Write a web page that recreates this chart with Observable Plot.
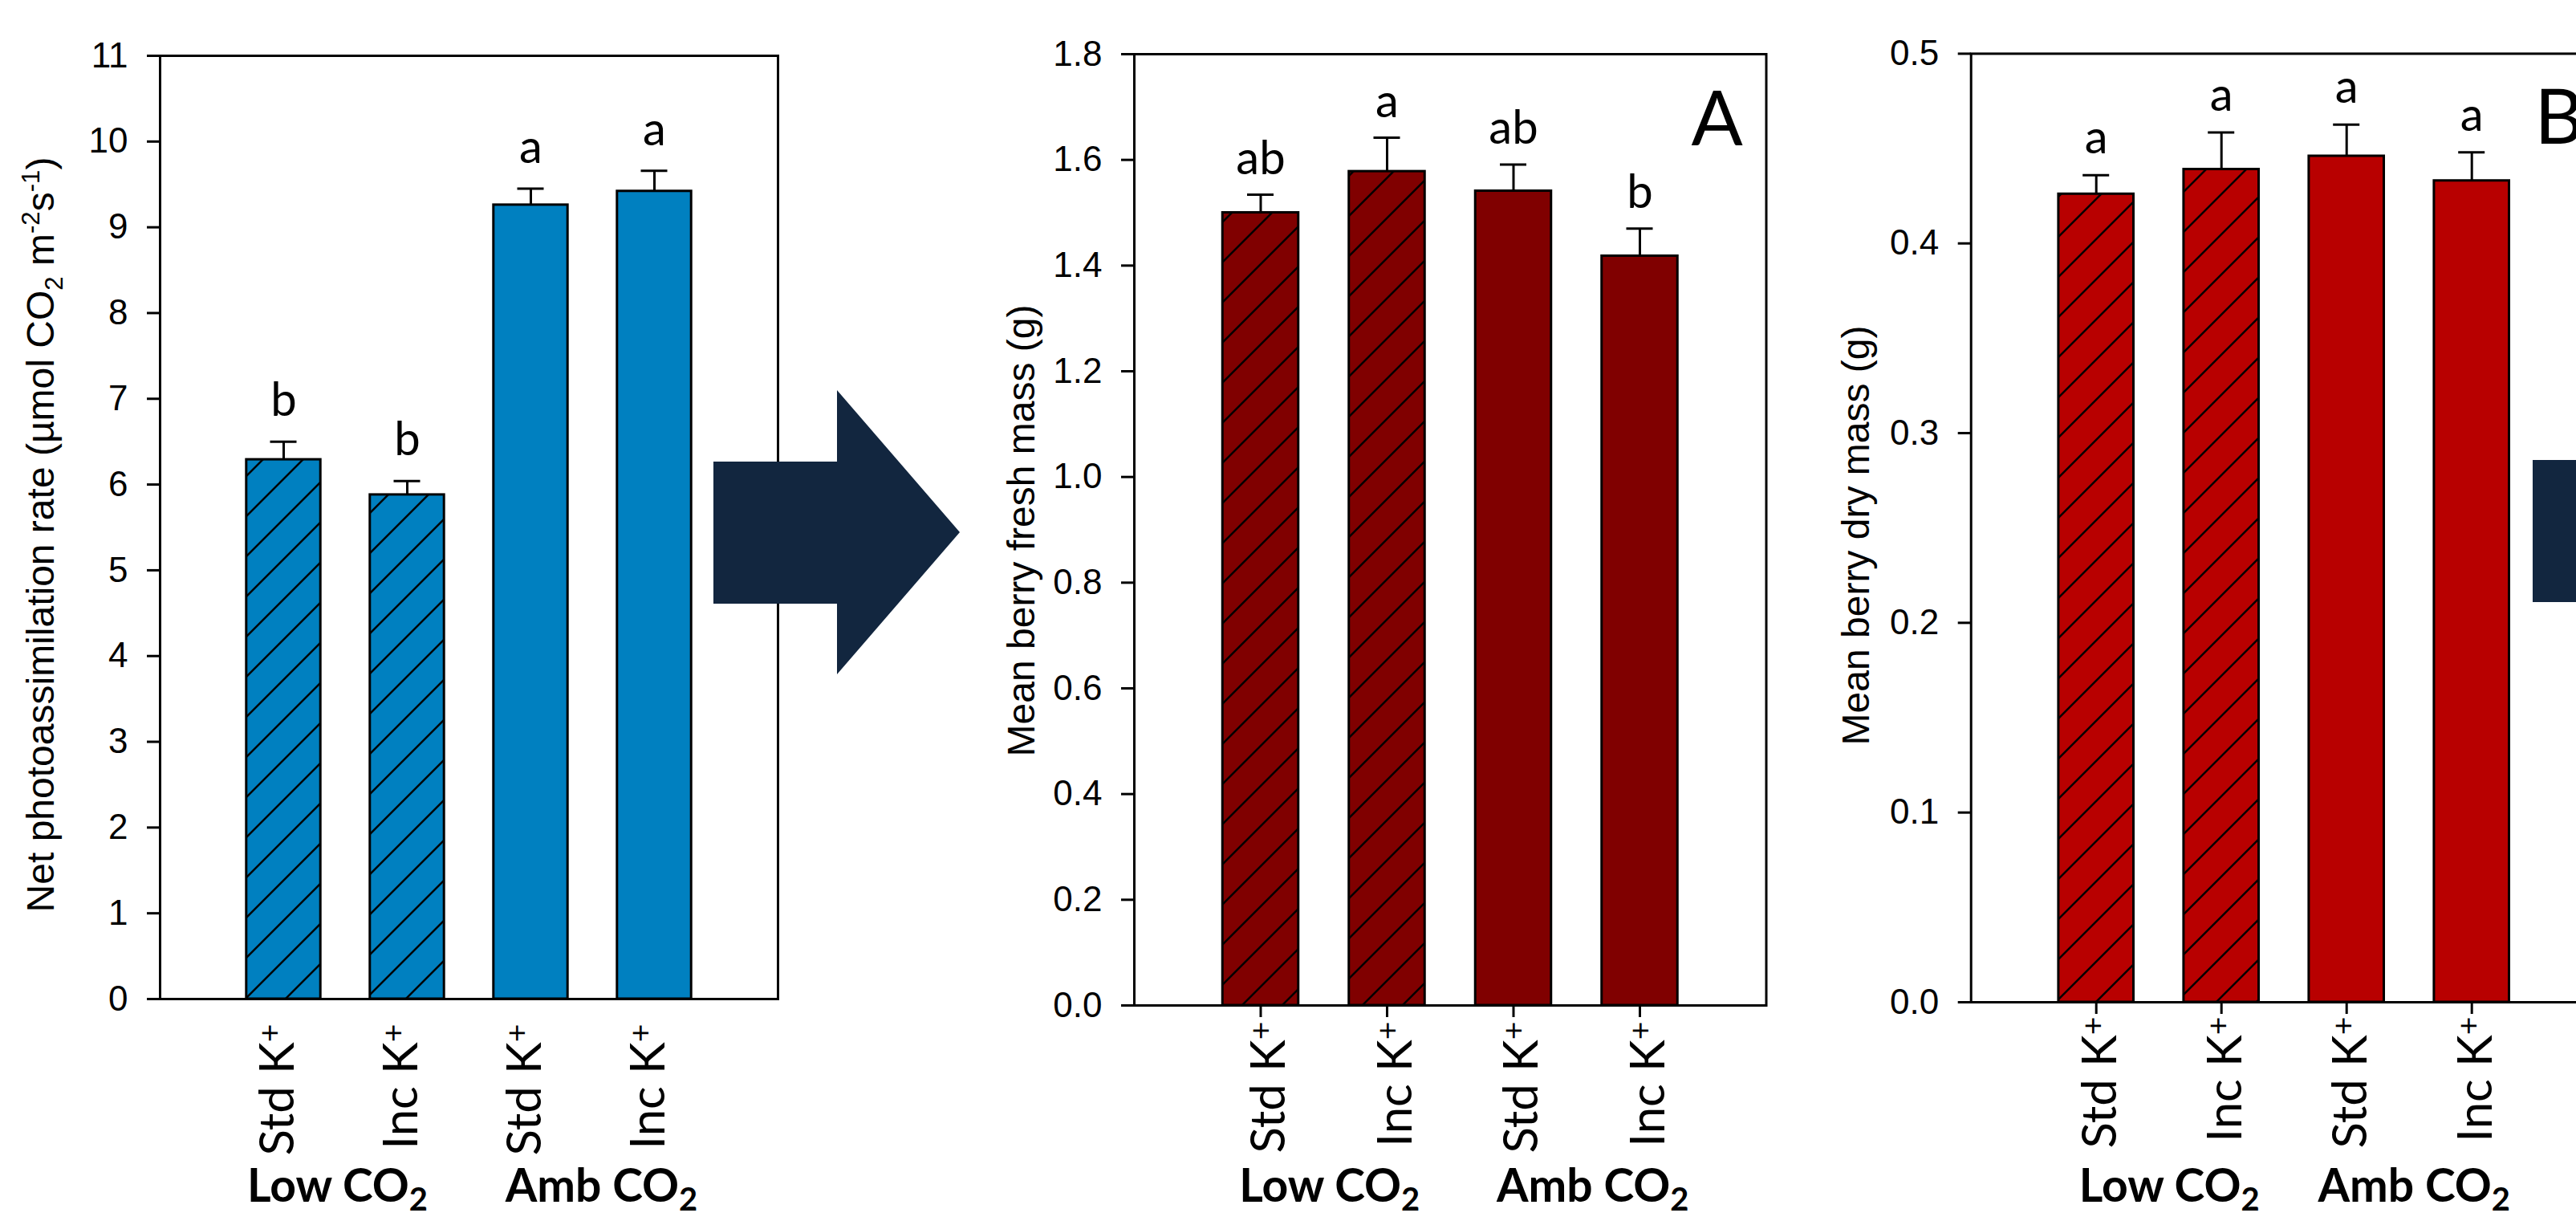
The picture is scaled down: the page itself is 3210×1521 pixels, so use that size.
<!DOCTYPE html>
<html>
<head>
<meta charset="utf-8">
<script src="https://cdn.jsdelivr.net/npm/d3@7"></script>
<script src="https://cdn.jsdelivr.net/npm/@observablehq/plot@0.6"></script>
<style>
html, body { margin: 0; padding: 0; background: #fff; overflow: hidden; }
#fig { position: relative; width: 3210px; height: 1521px; overflow: hidden; background: #fff; }
#fig > svg { position: absolute; top: 0; }
</style>
</head>
<body>
<div id="fig"></div>
<script>
// ---------- data ----------
const treatments = ["Std K+", "Inc K+", "Std K+", "Inc K+"];
const co2Groups  = ["Low CO2", "Low CO2", "Amb CO2", "Amb CO2"];
const hatched    = [true, true, false, false];

const photoMean    = [6.29, 5.88, 9.26, 9.42];
const photoSE      = [0.21, 0.16, 0.19, 0.24];
const photoLetters = ["b", "b", "a", "a"];
const photoTicks   = [0, 1, 2, 3, 4, 5, 6, 7, 8, 9, 10, 11];
const photoTitle   = "Net photoassimilation rate (µmol CO_{2} m^{-2}s^{-1})";

const freshMean    = [1.500, 1.578, 1.541, 1.418];
const freshSE      = [0.034, 0.064, 0.050, 0.052];
const freshLetters = ["ab", "a", "ab", "b"];
const freshTicks   = [0.0, 0.2, 0.4, 0.6, 0.8, 1.0, 1.2, 1.4, 1.6, 1.8];
const freshTitle   = "Mean berry fresh mass (g)";

const dryMean    = [0.426, 0.439, 0.446, 0.433];
const drySE      = [0.010, 0.0195, 0.0166, 0.015];
const dryLetters = ["a", "a", "a", "a"];
const dryTicks   = [0.0, 0.1, 0.2, 0.3, 0.4, 0.5];
const dryTitle   = "Mean berry dry mass (g)";

// ---------- helpers ----------
const fig = document.getElementById("fig");

function markup(s) {
  return s.replace(/K\+/g, "K^{+}").replace(/CO2/g, "CO_{2}");
}

function richify(el, str, basePx, supShift = 0.38, subShift = 0.25, scale = 0.65) {
  const sel = d3.select(el);
  sel.text(null);
  const parts = str.split(/(\^\{[^}]*\}|_\{[^}]*\})/).filter(s => s.length);
  let cur = 0;
  for (const p of parts) {
    let kind = null, t = p;
    if (p.startsWith("^{")) { kind = "sup"; t = p.slice(2, -1); }
    else if (p.startsWith("_{")) { kind = "sub"; t = p.slice(2, -1); }
    const target = kind === "sup" ? -supShift * basePx : kind === "sub" ? subShift * basePx : 0;
    const ts = sel.append("tspan").text(t);
    if (kind) ts.attr("font-size", scale * basePx);
    if (target !== cur) ts.attr("dy", target - cur);
    cur = target;
  }
}

function panel(cfg) {
  const rows = treatments.map((t, i) => ({
    pos: i + 1, treatment: t, group: co2Groups[i], hatched: hatched[i],
    mean: cfg.mean[i], se: cfg.se[i], letter: cfg.letters[i]
  }));
  const groupRows = d3.rollups(rows, v => d3.mean(v, d => d.pos), d => d.group)
    .map(([group, pos]) => ({group, pos}));
  const frameW = cfg.frameW;
  const marginRight = cfg.width - cfg.marginLeft - frameW;
  const marginBottom = 1521 - cfg.zeroY;
  const capHalf = 16.5 / (frameW / 5);

  const marks = [
    Plot.rectY(rows, {filter: d => !d.hatched, x1: d => d.pos - 0.3, x2: d => d.pos + 0.3, y1: 0, y2: "mean",
      fill: cfg.color, stroke: "black", strokeWidth: 3}),
    Plot.rectY(rows, {filter: d => d.hatched, x1: d => d.pos - 0.3, x2: d => d.pos + 0.3, y1: 0, y2: "mean",
      fill: `url(#hatch-${cfg.id})`, stroke: "black", strokeWidth: 3}),
    Plot.ruleX(rows, {x: "pos", y1: "mean", y2: d => d.mean + d.se, stroke: "black", strokeWidth: 3}),
    Plot.ruleY(rows, {y: d => d.mean + d.se, x1: d => d.pos - capHalf, x2: d => d.pos + capHalf, stroke: "black", strokeWidth: 3}),
    Plot.frame({stroke: "black", strokeWidth: 3}),
    Plot.axisY({ticks: cfg.ticks, tickFormat: cfg.format, tickSize: 16, tickPadding: 24, fontSize: 44,
      fontFamily: "Liberation Sans, Arial, sans-serif", label: null, strokeWidth: 3, stroke: "black", fill: "black"}),
    Plot.text(rows, {x: "pos", y: d => d.mean + d.se, text: "letter", dy: -cfg.letterGap, lineAnchor: "bottom",
      fontSize: 58, fontFamily: "Lato, sans-serif", fill: "black"}),
    Plot.text(rows, {x: "pos", frameAnchor: "bottom", text: "treatment", rotate: -90, textAnchor: "end",
      lineAnchor: "middle", dx: cfg.catDx, dy: cfg.catDy, fontSize: 60, fontFamily: "Lato, sans-serif", fill: "black"})
  ];
  groupRows.forEach((g, gi) => {
    marks.push(Plot.text([g], {x: "pos", frameAnchor: "bottom", text: "group", dx: cfg.groupDx[gi], dy: cfg.groupDy,
      lineAnchor: "bottom", fontSize: 57, fontWeight: "bold", fontFamily: "Lato, sans-serif", fill: "black"}));
  });
  if (cfg.xTicks) {
    marks.push(Plot.axisX({ticks: rows.map(d => d.pos), tickSize: 15, tickFormat: () => "", label: null,
      strokeWidth: 3, stroke: "black"}));
  }
  if (cfg.panelLetter) {
    marks.push(Plot.text([cfg.panelLetter], {frameAnchor: "top-left", text: d => d, textAnchor: "start",
      lineAnchor: "bottom", dx: cfg.letterDx, dy: cfg.letterDy, fontSize: 95, fontFamily: "Lato, sans-serif", fill: "black"}));
  }

  const svg = Plot.plot({
    width: cfg.width, height: 1521,
    marginLeft: cfg.marginLeft, marginRight, marginTop: cfg.marginTop, marginBottom,
    x: {domain: [0, 5], axis: null},
    y: {domain: cfg.domain, axis: null},
    style: {background: "transparent", overflow: "visible", color: "black", fontFamily: "Lato, sans-serif"},
    marks
  });

  // hatch pattern definition
  const s = d3.select(svg);
  const defs = s.insert("defs", ":first-child");
  const pat = defs.append("pattern").attr("id", `hatch-${cfg.id}`)
    .attr("patternUnits", "userSpaceOnUse").attr("width", 50).attr("height", 50);
  pat.append("rect").attr("width", 50).attr("height", 50).attr("fill", cfg.color);
  pat.append("path").attr("d", "M-5,5 L5,-5 M0,50 L50,0 M45,55 L55,45")
    .attr("stroke", "black").attr("stroke-width", 2.5).attr("fill", "none");

  // superscripts / subscripts in category and group labels
  s.selectAll("text").each(function () {
    const t = this.textContent;
    if (/K\+/.test(t)) richify(this, markup(t), 60, 0.28, 0.25, 0.65);
    else if (/CO2/.test(t)) richify(this, markup(t), 57, 0.38, 0.2, 0.7);
  });

  // y-axis title
  const title = s.append("text")
    .attr("transform", `translate(${cfg.marginLeft - cfg.titleOffset},${cfg.titleY}) rotate(-90)`)
    .attr("text-anchor", "middle")
    .attr("font-family", "Liberation Sans, Arial, sans-serif")
    .attr("font-size", 48)
    .attr("fill", "black");
  richify(title.node(), cfg.title, 48, 0.38, 0.22, 0.65);

  svg.style.left = cfg.left + "px";
  fig.appendChild(svg);
}

panel({id: "p1", left: 0, width: 1000, marginLeft: 199, frameW: 770, marginTop: 69, zeroY: 1244,
  domain: [0, 11], ticks: photoTicks, format: d => String(d), color: "#0080c0",
  mean: photoMean, se: photoSE, letters: photoLetters, letterGap: 32,
  catDx: -7, catDy: 31, groupDy: 252, groupDx: [-10, 11], xTicks: false,
  title: photoTitle, titleOffset: 132, titleY: 666});

panel({id: "p2", left: 1000, width: 1210, marginLeft: 413, frameW: 787.5, marginTop: 67, zeroY: 1252,
  domain: [0, 1.8], ticks: freshTicks, format: d3.format(".1f"), color: "#800000",
  mean: freshMean, se: freshSE, letters: freshLetters, letterGap: 26,
  catDx: 11, catDy: 20, groupDy: 244, groupDx: [7, 20], xTicks: true,
  panelLetter: "A", letterDx: 694, letterDy: 113,
  title: freshTitle, titleOffset: 124, titleY: 661});

panel({id: "p3", left: 2210, width: 1040, marginLeft: 245.7, frameW: 780, marginTop: 66.4, zeroY: 1248,
  domain: [0, 0.5], ticks: dryTicks, format: d3.format(".1f"), color: "#b80000",
  mean: dryMean, se: drySE, letters: dryLetters, letterGap: 27,
  catDx: 6, catDy: 18, groupDy: 248, groupDx: [13, 6], xTicks: true,
  panelLetter: "B", letterDx: 702, letterDy: 112,
  title: dryTitle, titleOffset: 127, titleY: 667});

// decorative arrows between panels
const arrows = d3.select(fig).append("svg")
  .attr("width", 3210).attr("height", 1521)
  .style("position", "absolute").style("left", "0px").style("top", "0px");
const arrowShape = [[0, 89], [154, 89], [154, 0], [307, 177], [154, 354], [154, 266], [0, 266]];
[[889, 486], [3156, 484]].forEach(([ax, ay]) => {
  arrows.append("polygon")
    .attr("points", arrowShape.map(([x, y]) => `${x + ax},${y + ay}`).join(" "))
    .attr("fill", "#12263f");
});
</script>
</body>
</html>
